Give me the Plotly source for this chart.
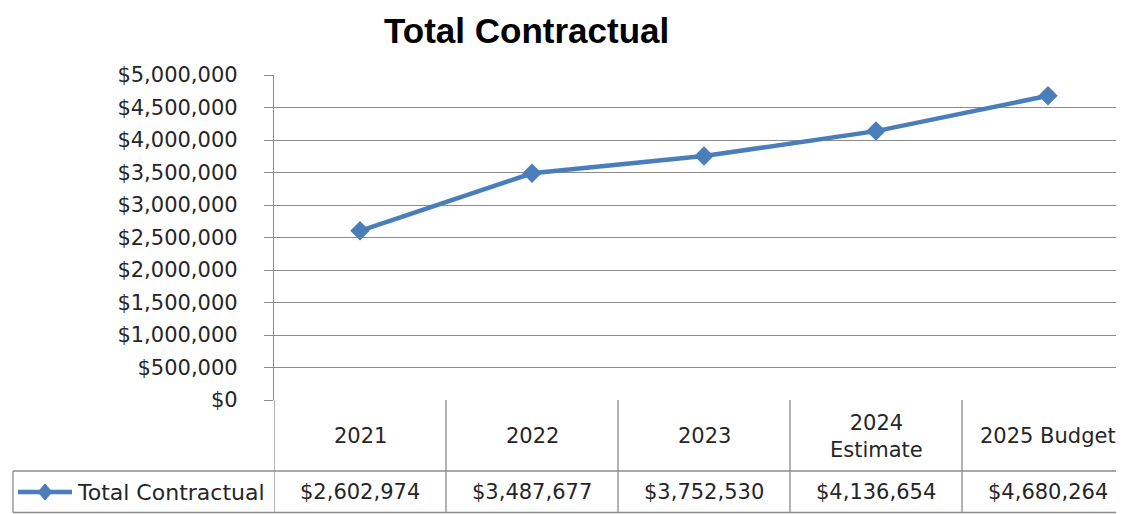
import plotly.graph_objects as go

categories = ["2021", "2022", "2023", "2024<br>Estimate", "2025 Budget"]
values = [2602974, 3487677, 3752530, 4136654, 4680264]
series_name = "Total Contractual"
y_ticks = [0, 500000, 1000000, 1500000, 2000000, 2500000, 3000000, 3500000, 4000000, 4500000, 5000000]
y_tick_labels = ["$" + format(v, ",") for v in y_ticks]

OFF = 8  # default page body margin
W, H = 1124 - OFF, 514 - OFF
P_LEFT, P_TOP, P_BOTTOM = 274, 75, 400
ML = P_LEFT - OFF
MT = P_TOP - OFF
MB = H - (P_BOTTOM - OFF)
MR = 0
PW, PH = W - ML - MR, H - MT - MB

def px_x(px):
    return (px - P_LEFT) / PW

def px_y(py):
    return (P_BOTTOM - py) / PH

LINE = "#4A7EBB"
GRID = "#8c8c8c"
TXT = "#262626"
FONT = "DejaVu Sans"
xs = list(range(len(categories)))
COLW = 172

fig = go.Figure()
fig.add_trace(go.Scatter(
    x=xs, y=values, mode="lines+markers", name=series_name,
    line=dict(color=LINE, width=4.5),
    marker=dict(symbol="diamond", size=15, color=LINE),
    showlegend=False, cliponaxis=False,
))

shapes = []
y_mid = px_y(471)
y_bot = px_y(512.5)
for k in range(len(categories)):
    shapes.append(dict(type="line", xref="x", yref="paper", x0=k - 0.5, x1=k - 0.5,
                       y0=0, y1=y_bot, line=dict(color=GRID, width=1.3)))
for yy in (y_mid, y_bot):
    shapes.append(dict(type="line", xref="paper", yref="paper", x0=px_x(13), x1=1,
                       y0=yy, y1=yy, line=dict(color=GRID, width=1.3)))
shapes.append(dict(type="line", xref="paper", yref="paper", x0=px_x(13), x1=px_x(13),
                   y0=y_mid, y1=y_bot, line=dict(color=GRID, width=1.3)))
ky = px_y(492)
shapes.append(dict(type="line", xref="paper", yref="paper", x0=px_x(18), x1=px_x(72),
                   y0=ky, y1=ky, line=dict(color=LINE, width=4.5)))
cx, cy = px_x(45), ky
dx, dy = 7 / PW, 8 / PH
shapes.append(dict(type="path", xref="paper", yref="paper",
                   path=f"M {cx-dx},{cy} L {cx},{cy+dy} L {cx+dx},{cy} L {cx},{cy-dy} Z",
                   fillcolor=LINE, line=dict(color=LINE, width=1)))

annotations = []
for i, c in enumerate(categories):
    annotations.append(dict(x=i, y=px_y(436), xref="x", yref="paper", text=c,
                            showarrow=False, font=dict(family=FONT, size=21, color=TXT),
                            xanchor="center", yanchor="middle"))
    annotations.append(dict(x=i, y=px_y(492), xref="x", yref="paper", text="$" + format(values[i], ","),
                            showarrow=False, font=dict(family=FONT, size=21, color=TXT),
                            xanchor="center", yanchor="middle"))
annotations.append(dict(x=px_x(75), y=px_y(492), xref="paper", yref="paper", text=series_name,
                        showarrow=False, font=dict(family=FONT, size=22, color=TXT),
                        xanchor="left", yanchor="middle"))
annotations.append(dict(x=px_x(526), y=px_y(30), xref="paper", yref="paper", text="<b>Total Contractual</b>",
                        showarrow=False, font=dict(family="Liberation Sans", size=35, color="#000000"),
                        xanchor="center", yanchor="middle", borderpad=0))

fig.update_layout(
    width=W, height=H, margin=dict(l=ML, r=MR, t=MT, b=MB),
    paper_bgcolor="white", plot_bgcolor="white",
    shapes=shapes, annotations=annotations,
    xaxis=dict(range=[-0.5, -0.5 + PW / COLW], showticklabels=False, showgrid=False,
               zeroline=False, showline=False, ticks=""),
    yaxis=dict(range=[0, 5000000], tickvals=y_ticks, ticktext=y_tick_labels,
               showgrid=True, gridcolor=GRID, gridwidth=1.3, zeroline=False,
               showline=True, linecolor=GRID, linewidth=1.3,
               ticks="outside", ticklen=9, tickcolor=GRID, tickwidth=1.3,
               ticklabelstandoff=22,
               tickfont=dict(family=FONT, size=21, color=TXT)),
)

fig.write_html("out.html")
